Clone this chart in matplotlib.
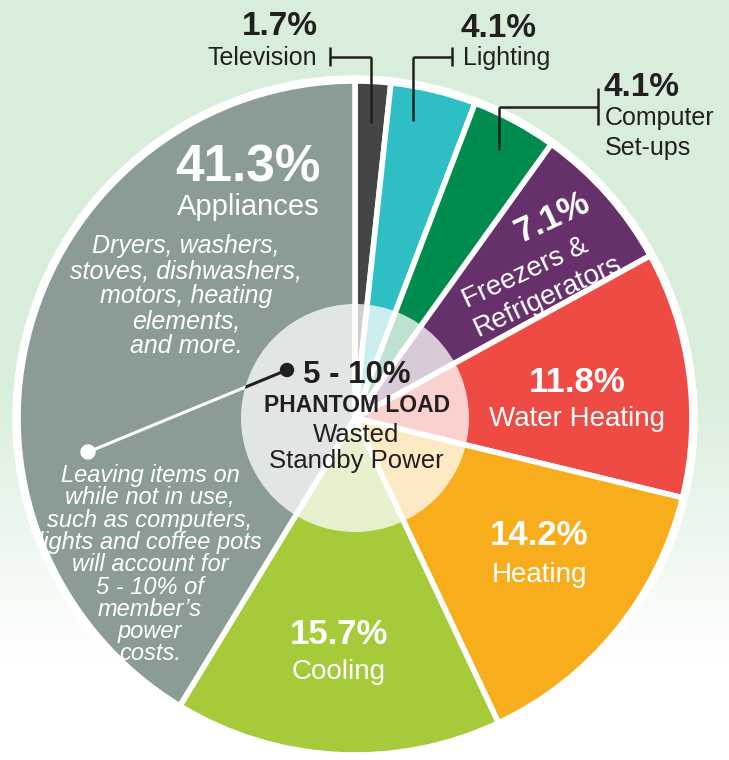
import matplotlib
matplotlib.use("Agg")
import matplotlib.pyplot as plt
import numpy as np
from matplotlib.patches import Circle
from matplotlib.colors import to_rgb

plt.rcParams["font.family"] = ["Liberation Sans", "DejaVu Sans"]

# Share of residential power use, clockwise from 12 o'clock
categories = ["Television", "Lighting", "Computer Set-ups", "Freezers & Refrigerators",
              "Water Heating", "Heating", "Cooling", "Appliances"]
shares = [1.7, 4.1, 4.1, 7.1, 11.8, 14.2, 15.7, 41.3]
colors = ["#434547", "#2ebfc5", "#008b4f", "#66306a",
          "#ef4b45", "#f8ad1d", "#a5ca3a", "#8a9c95"]

phantom_range = "5 - 10%"
appliance_note = ["Dryers, washers,", "stoves, dishwashers,", "motors, heating",
                  "elements,", "and more."]
phantom_note = ["Leaving items on", "while not in use,", "such as computers,",
                "lights and coffee pots", "will account for", "5 - 10% of",
                "member\u2019s", "power", "costs."]

W, H = 729, 760
CX, CY, R = 355, 418, 337
DARK = "#231f20"

fig = plt.figure(figsize=(W / 100, H / 100), dpi=100)
ax = fig.add_axes([0, 0, 1, 1])

# background: mint fading to white toward the bottom
mint = np.array(to_rgb("#d8eedb"))
rows = np.arange(H)
t = np.clip((rows - 380) / (660 - 380), 0, 1)[::-1]
grad = mint[None, :] * (1 - t[:, None]) + np.ones(3)[None, :] * t[:, None]
ax.imshow(grad[:, None, :], extent=(0, W, 0, H), aspect="auto", zorder=0, origin="lower")

ax.add_patch(Circle((CX, H - CY), R + 5, color="white", zorder=0.5))
wedges, _ = ax.pie(shares, colors=colors, startangle=90, counterclock=False,
                   center=(CX, H - CY), radius=R,
                   wedgeprops=dict(edgecolor="white", linewidth=4))
for w in wedges:
    w.set_zorder(1)

hub = Circle((CX, H - CY), 114, facecolor="white", alpha=0.75, edgecolor="none", zorder=2)
ax.add_patch(hub)

ax.set_xlim(0, W)
ax.set_ylim(0, H)
ax.set_aspect("auto")
ax.axis("off")


def txt(x, y, s, **kw):
    kw.setdefault("color", DARK)
    kw.setdefault("zorder", 5)
    ax.text(x, H - y, s, **kw)


def line(xs, ys, color=DARK, lw=1.8, z=4):
    ax.plot(xs, [H - y for y in ys], color=color, lw=lw, solid_capstyle="butt", zorder=z)


# outside labels with leader lines
line([371.5, 371.5], [123, 57]); line([330.5, 371.5], [57, 57]); line([330.5, 330.5], [47, 66])
txt(318, 35, f"{shares[0]}%", fontsize=24, fontweight="bold", ha="right", va="baseline")
txt(317, 65, categories[0], fontsize=18, ha="right", va="baseline")

line([413, 413], [121, 57]); line([413, 452], [57, 57]); line([452, 452], [47, 66])
txt(461, 37, f"{shares[1]}%", fontsize=24, fontweight="bold", ha="left", va="baseline")
txt(463, 65, categories[1], fontsize=18, ha="left", va="baseline")

line([499, 499], [150, 107]); line([499, 598], [107, 107]); line([598, 598], [88, 125])
txt(604, 96, f"{shares[2]}%", fontsize=24, fontweight="bold", ha="left", va="baseline")
txt(605, 125, "Computer", fontsize=18, ha="left", va="baseline")
txt(605, 155, "Set-ups", fontsize=18, ha="left", va="baseline")

# freezers, rotated
rot = 25
txt(552, 218, f"{shares[3]}%", fontsize=25, fontweight="bold", color="white",
    rotation=rot, rotation_mode="anchor", ha="center", va="center")
txt(525, 273, "Freezers &", fontsize=20, color="white",
    rotation=rot, rotation_mode="anchor", ha="center", va="center")
txt(548, 296, "Refrigerators", fontsize=20, color="white",
    rotation=rot, rotation_mode="anchor", ha="center", va="center")

# inside labels
inside = [(577, 392, 426, 4), (539, 545, 582, 5), (339, 644, 679, 6)]
for x, yb1, yb2, i in inside:
    txt(x, yb1, f"{shares[i]}%", fontsize=25, fontweight="bold", color="white",
        ha="center", va="baseline")
    txt(x, yb2, categories[i], fontsize=20, color="white", ha="center", va="baseline")

txt(248, 182, f"{shares[7]}%", fontsize=37, fontweight="bold", color="white",
    ha="center", va="baseline")
txt(248, 215, categories[7], fontsize=21, color="white", ha="center", va="baseline")
for k, s in enumerate(appliance_note):
    txt(186, 253 + 25 * k, s, fontsize=18, style="italic", color="white",
        ha="center", va="baseline")
for k, s in enumerate(phantom_note):
    txt(150, 482 + 22.3 * k, s, fontsize=17, style="italic", color="white",
        ha="center", va="baseline")

# phantom load pointer: white over the slice, black inside the hub
p0, p1 = (88, 452), (287, 370)
ax.plot([p0[0], p1[0]], [H - p0[1], H - p1[1]], color="white", lw=2.2, zorder=3)
blk, = ax.plot([p0[0], p1[0]], [H - p0[1], H - p1[1]], color=DARK, lw=2.2, zorder=4)
blk.set_clip_path(hub)
ax.add_patch(Circle((p0[0], H - p0[1]), 7, color="white", zorder=4))
ax.add_patch(Circle((p1[0], H - p1[1]), 6.5, color=DARK, zorder=4))

txt(357, 383, phantom_range, fontsize=22.5, fontweight="bold", ha="center", va="baseline")
txt(357, 412, "PHANTOM LOAD", fontsize=16.5, fontweight="bold", ha="center", va="baseline")
txt(356, 442, "Wasted", fontsize=18.5, ha="center", va="baseline")
txt(356, 468, "Standby Power", fontsize=18.5, ha="center", va="baseline")

fig.savefig("out.png", dpi=100)
